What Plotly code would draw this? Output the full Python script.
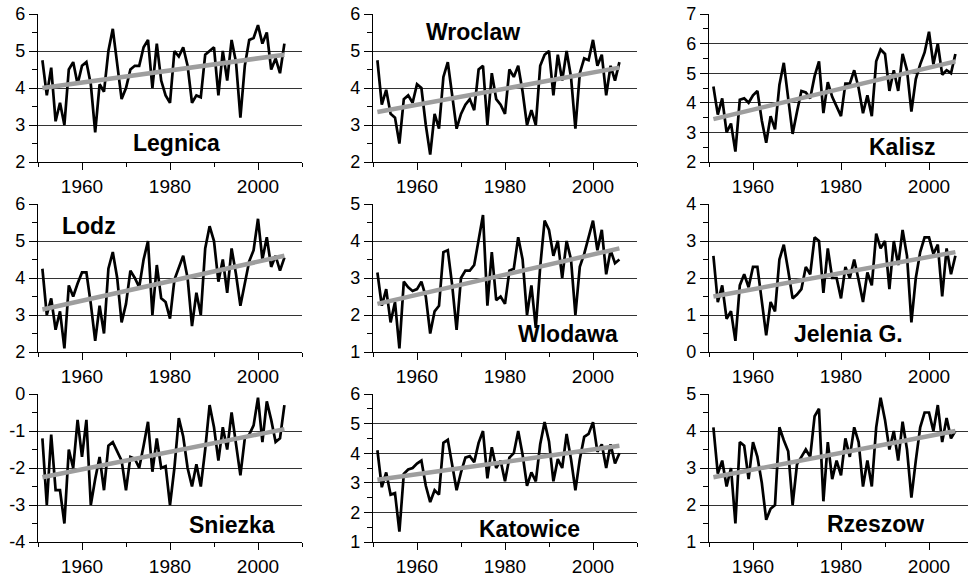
import plotly.graph_objects as go

years = list(range(1951, 2007))

stations = ["Legnica", "Wroclaw", "Kalisz", "Lodz", "Wlodawa", "Jelenia G.",
            "Sniezka", "Katowice", "Rzeszow"]

legnica = [4.75, 3.8, 4.55, 3.1, 3.6, 3.0, 4.5, 4.7, 4.1, 4.6, 4.7, 4.1, 2.8, 4.1, 3.9, 5.0, 5.6, 4.6, 3.7, 4.0,
           4.5, 4.6, 4.6, 5.1, 5.3, 4.0, 5.2, 4.2, 3.8, 3.6, 5.0, 4.85, 5.1, 4.6, 3.6, 3.8, 3.75, 4.9, 5.0, 5.1,
           3.8, 5.0, 4.2, 5.3, 4.7, 3.2, 4.6, 5.3, 5.35, 5.7, 5.2, 5.5, 4.5, 4.8, 4.4, 5.2]
wroclaw = [4.75, 3.55, 3.95, 3.3, 3.2, 2.5, 3.7, 3.8, 3.6, 4.1, 4.0, 3.0, 2.2, 3.3, 2.9, 4.3, 4.7, 3.8, 2.9, 3.3,
           3.55, 3.7, 3.4, 4.5, 4.6, 3.0, 4.4, 3.7, 3.55, 3.3, 4.5, 4.3, 4.6, 3.9, 3.0, 3.4, 3.0, 4.6, 4.9, 5.0,
           3.8, 4.9, 4.2, 5.0, 4.3, 2.9, 4.4, 4.8, 4.75, 5.3, 4.6, 4.9, 3.8, 4.6, 4.2, 4.7]
kalisz = [4.55, 3.6, 4.15, 3.0, 3.3, 2.35, 4.1, 4.15, 4.0, 4.25, 4.4, 3.4, 2.65, 3.55, 3.1, 4.6, 5.35, 4.1, 2.95, 3.7,
          4.4, 4.35, 4.15, 4.9, 5.4, 3.65, 4.7, 4.2, 3.85, 3.55, 4.65, 4.65, 5.1, 4.5, 3.65, 4.25, 3.55, 5.4, 5.8, 5.65,
          4.4, 5.1, 4.4, 5.65, 5.1, 3.7, 4.8, 5.3, 5.7, 6.4, 5.3, 6.0, 4.95, 5.1, 5.0, 5.65]
lodz = [4.25, 3.0, 3.45, 2.6, 3.1, 2.1, 3.8, 3.5, 3.85, 4.15, 4.15, 3.3, 2.3, 3.25, 2.5, 4.25, 4.7, 4.0, 2.8, 3.3,
        4.2, 4.0, 3.75, 4.5, 5.0, 3.0, 4.35, 3.45, 3.35, 2.9, 3.95, 4.3, 4.6, 4.0, 2.7, 3.6, 3.0, 4.8, 5.4, 5.0,
        3.9, 4.5, 3.6, 4.8, 4.1, 3.25, 3.9, 4.45, 4.75, 5.6, 4.5, 5.1, 4.3, 4.6, 4.2, 4.55]
wlodawa = [3.15, 2.25, 2.7, 1.8, 2.35, 1.1, 2.9, 2.75, 2.65, 2.7, 2.9, 2.5, 1.5, 2.1, 2.25, 3.7, 3.75, 2.8, 1.6, 3.0,
           3.2, 3.2, 3.35, 4.0, 4.7, 2.25, 3.7, 2.4, 2.5, 2.3, 3.2, 3.25, 4.1, 3.5, 2.0, 2.8, 1.65, 3.3, 4.55, 4.3,
           3.6, 4.0, 3.0, 4.0, 3.5, 2.0, 3.3, 3.65, 4.1, 4.55, 3.75, 4.3, 3.1, 3.75, 3.4, 3.5]
jelenia = [2.6, 1.35, 1.8, 0.9, 1.1, 0.3, 1.8, 2.1, 1.75, 2.3, 2.3, 1.3, 0.45, 1.35, 1.1, 2.5, 2.9, 2.2, 1.45, 1.55,
           1.7, 2.3, 2.1, 3.1, 3.0, 1.6, 2.8, 2.0, 2.0, 1.45, 2.3, 2.0, 2.5, 1.95, 1.35, 2.15, 1.8, 3.2, 2.8, 3.0,
           1.7, 3.0, 2.35, 3.3, 2.6, 0.8, 2.0, 2.7, 3.1, 3.1, 2.65, 2.9, 1.5, 2.8, 2.1, 2.6]
sniezka = [-1.2, -3.0, -1.1, -2.6, -2.6, -3.5, -1.5, -2.0, -0.7, -1.7, -0.7, -3.0, -2.3, -1.7, -2.6, -1.4, -1.3,
           -1.55, -1.8, -2.6, -1.7, -1.75, -2.0, -1.4, -0.75, -2.1, -1.2, -2.0, -1.95, -3.0, -2.0, -0.65, -1.15,
           -2.0, -2.5, -1.9, -2.5, -1.5, -0.3, -0.9, -1.8, -0.9, -1.5, -0.5, -1.3, -2.2, -1.2, -1.1, -0.85, -0.1,
           -1.3, -0.2, -0.7, -1.3, -1.2, -0.3]
katowice = [4.1, 2.85, 3.35, 2.6, 2.65, 1.35, 3.3, 3.45, 3.5, 3.65, 3.75, 2.9, 2.35, 2.75, 2.6, 4.35, 4.45, 3.55, 2.75,
            3.35, 3.85, 3.9, 3.7, 4.35, 4.75, 3.15, 4.2, 3.5, 3.75, 3.05, 3.85, 4.0, 4.75, 3.95, 2.9, 3.35, 3.05, 4.3,
            5.05, 4.4, 3.05, 3.8, 3.5, 4.65, 3.8, 2.75, 3.8, 4.55, 4.65, 5.05, 4.05, 4.3, 3.5, 4.3, 3.65, 4.0]
rzeszow = [4.1, 2.85, 3.2, 2.5, 3.0, 1.5, 3.7, 3.6, 2.7, 3.7, 3.3, 2.6, 1.6, 1.9, 2.0, 4.1, 3.75, 3.45, 2.0, 3.1,
           3.3, 3.5, 3.3, 4.4, 4.6, 2.1, 3.7, 2.7, 3.2, 2.8, 3.8, 3.3, 4.1, 3.7, 2.5, 3.2, 2.5, 4.1, 4.9, 4.3,
           3.5, 4.0, 3.2, 4.25, 3.5, 2.2, 3.2, 4.1, 4.5, 4.5, 4.0, 4.7, 3.7, 4.35, 3.8, 4.0]

series = [legnica, wroclaw, kalisz, lodz, wlodawa, jelenia, sniezka, katowice, rzeszow]

# trend line end values (1951, 2006)
trend_years = [1951, 2006]
trend_start = [4.0, 3.35, 3.45, 3.15, 2.3, 1.5, -2.25, 3.1, 2.75]
trend_end = [4.9, 4.55, 5.4, 4.6, 3.8, 2.7, -0.95, 4.25, 4.0]

y_min = [2, 2, 2, 2, 1, 0, -4, 1, 1]
y_max = [6, 6, 7, 6, 5, 4, 0, 6, 5]

x_ticks = [1960, 1980, 2000]

# ---- layout geometry (pixels) ----
W, H = 968, 581
col_left = [38, 373, 709]
col_w = 264
px_per_year = col_w / 60.0
row_top = [14, 204, 394]
row_h = 148

label_pos = [(176, 143), (473, 32), (902, 147),
             (89, 226), (568, 334), (848, 334),
             (232, 525), (529, 529), (875, 524)]

FONT = "Arial, 'Liberation Sans', Helvetica, sans-serif"

fig = go.Figure()
layout = dict(
    width=W, height=H,
    margin=dict(l=0, r=0, t=0, b=0, pad=0, autoexpand=False),
    paper_bgcolor="white", plot_bgcolor="white",
    showlegend=False,
    font=dict(family=FONT, color="black"),
    annotations=[],
)

for i in range(9):
    r, c = divmod(i, 3)
    n = i + 1
    xa = "x" if n == 1 else f"x{n}"
    ya = "y" if n == 1 else f"y{n}"
    xkey = "xaxis" if n == 1 else f"xaxis{n}"
    ykey = "yaxis" if n == 1 else f"yaxis{n}"

    x0 = col_left[c]
    x1 = min(x0 + col_w, W)
    xr_end = 1950 + (x1 - x0) / px_per_year
    y_top = row_top[r]
    y_bot = y_top + row_h

    fig.add_trace(go.Scatter(x=years, y=series[i], mode="lines",
                             line=dict(color="black", width=2.7),
                             xaxis=xa, yaxis=ya, hoverinfo="skip"))
    fig.add_trace(go.Scatter(x=trend_years, y=[trend_start[i], trend_end[i]], mode="lines",
                             line=dict(color="#9e9e9e", width=4.5),
                             xaxis=xa, yaxis=ya, hoverinfo="skip"))

    layout[xkey] = dict(
        domain=[x0 / W, x1 / W], range=[1950, xr_end], anchor=ya,
        automargin=False,
        showline=True, linecolor="black", linewidth=1.2,
        showgrid=False, zeroline=False,
        tickmode="array", tickvals=x_ticks, ticktext=[str(v) for v in x_ticks],
        ticks="outside", ticklen=7, tickcolor="black", tickwidth=1.2,
        tickfont=dict(size=19, color="black", family=FONT),
        minor=dict(dtick=10, tick0=1950, ticks="outside", ticklen=4,
                   tickcolor="black", tickwidth=1.2, showgrid=False),
        fixedrange=True,
    )
    yvals = list(range(y_min[i], y_max[i] + 1))
    layout[ykey] = dict(
        domain=[1 - y_bot / H, 1 - y_top / H], range=[y_min[i], y_max[i]], anchor=xa,
        automargin=False,
        showline=True, linecolor="black", linewidth=1.2,
        showgrid=True, gridcolor="#333333", gridwidth=1, zeroline=False,
        tickmode="array", tickvals=yvals, ticktext=[str(v) for v in yvals],
        ticks="outside", ticklen=8, tickcolor="black", tickwidth=1.2,
        tickfont=dict(size=18, color="black", family=FONT),
        minor=dict(dtick=0.5, tick0=0, ticks="outside", ticklen=5,
                   tickcolor="black", tickwidth=1.2, showgrid=False),
        fixedrange=True,
    )

    lx, ly = label_pos[i]
    layout["annotations"].append(dict(
        text=f"<b>{stations[i]}</b>", x=lx / W, y=1 - ly / H,
        xref="paper", yref="paper", xanchor="center", yanchor="middle",
        showarrow=False, font=dict(size=23, color="black", family=FONT)))

fig.update_layout(**layout)

page_fix = (
    "document.documentElement.style.margin='0';"
    "document.documentElement.style.overflow='hidden';"
    "document.body.style.margin='0';"
    "document.body.style.padding='0';"
    "document.body.style.overflow='hidden';"
)
fig.write_html("out.html", post_script=page_fix, config={"displayModeBar": False})
